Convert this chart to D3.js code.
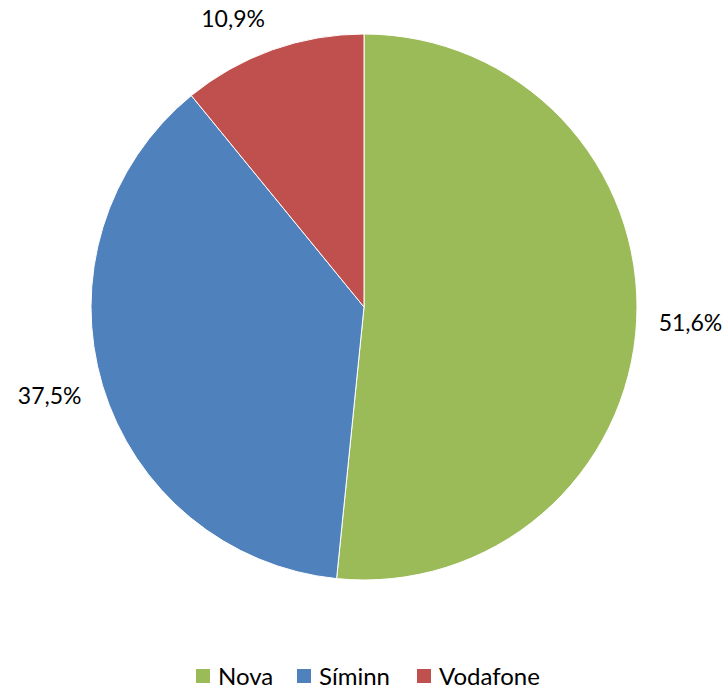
<!DOCTYPE html>
<html>
<head>
<meta charset="utf-8">
<script src="https://cdn.jsdelivr.net/npm/d3@7"></script>
<style>
  body { margin: 0; background: #fff; }
  text { font-family: Lato, "Open Sans", sans-serif; fill: #000; }
</style>
</head>
<body>
<div id="chart"></div>
<script>
const categories = ['Nova', 'Síminn', 'Vodafone'];
const values = [51.6, 37.5, 10.9];
const labels = ['51,6%', '37,5%', '10,9%'];
const colors = ['#9bbb59', '#4f81bd', '#c0504d'];

const width = 728;
const height = 689;
const cx = 364;
const cy = 307;
const radius = 273;
const labelGap = 22;
const labelHalfH = 12;

const svg = d3
  .select('#chart')
  .append('svg')
  .attr('width', width)
  .attr('height', height);

const pie = d3.pie().sort(null).value(d => d);
const arcs = pie(values);

const arc = d3.arc().innerRadius(0).outerRadius(radius);

const g = svg.append('g').attr('transform', `translate(${cx},${cy})`);

g.selectAll('path')
  .data(arcs)
  .enter()
  .append('path')
  .attr('d', arc)
  .attr('fill', (d, i) => colors[i])
  .attr('stroke', '#fff')
  .attr('stroke-width', 1);

// outside labels, anchored like excel's best fit
const mid = d => (d.startAngle + d.endAngle) / 2;
g.selectAll('text.label')
  .data(arcs)
  .enter()
  .append('text')
  .attr('class', 'label')
  .attr('x', d => Math.sin(mid(d)) * (radius + labelGap))
  .attr('y', d => {
    let py = -Math.cos(mid(d)) * (radius + labelGap);
    return py - Math.cos(mid(d)) * labelHalfH;
  })
  .attr('text-anchor', d => {
    let s = Math.sin(mid(d));
    return s > 0.1 ? 'start' : s < -0.1 ? 'end' : 'middle';
  })
  .attr('dominant-baseline', 'central')
  .style('font-size', '23px')
  .text((d, i) => labels[i]);

// legend
const legendX = [196, 297, 417];
const legend = svg
  .selectAll('g.legend')
  .data(categories)
  .enter()
  .append('g')
  .attr('class', 'legend')
  .attr('transform', (d, i) => `translate(${legendX[i]},669)`);

legend
  .append('rect')
  .attr('width', 14)
  .attr('height', 14)
  .attr('fill', (d, i) => colors[i]);

legend
  .append('text')
  .attr('x', 22)
  .attr('y', 16)
  .style('font-size', '24px')
  .text(d => d);
</script>
</body>
</html>
